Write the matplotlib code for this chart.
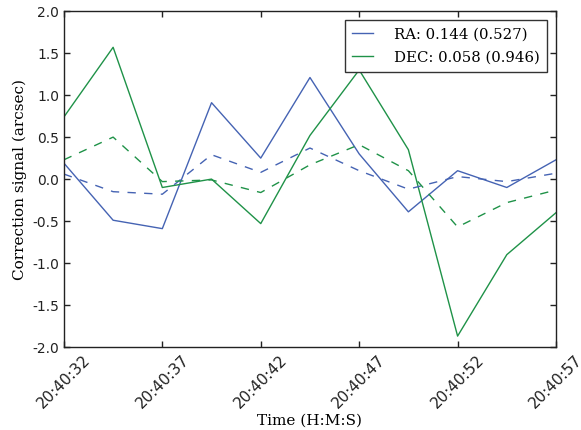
import datetime as dt
import numpy as np
import matplotlib
matplotlib.use("Agg")
import matplotlib.pyplot as plt
import matplotlib.dates as mdates

# samples every 2.5 s starting 20:40:32
t0 = dt.datetime(2016, 1, 1, 20, 40, 32)
offsets = [0, 2.5, 5, 7.5, 10, 12.5, 15, 17.5, 20, 22.5, 25]
times = [t0 + dt.timedelta(seconds=s) for s in offsets]

ra = [0.19, -0.49, -0.59, 0.91, 0.25, 1.21, 0.30, -0.39, 0.10, -0.10, 0.23]
dec = [0.74, 1.57, -0.10, 0.0, -0.53, 0.52, 1.30, 0.35, -1.87, -0.90, -0.40]
ra_model = [0.06, -0.15, -0.18, 0.29, 0.08, 0.37, 0.10, -0.12, 0.03, -0.03, 0.07]
dec_model = [0.23, 0.50, -0.03, -0.01, -0.16, 0.17, 0.41, 0.10, -0.57, -0.28, -0.13]

ra_label = "RA: 0.144 (0.527)"
dec_label = "DEC: 0.058 (0.946)"

blue = "#4563b3"
green = "#1f9248"

plt.rcParams["xtick.direction"] = "in"
plt.rcParams["ytick.direction"] = "in"

fig = plt.figure(figsize=(5.81, 4.30), dpi=100)
ax = fig.add_axes([0.110, 0.193, 0.847, 0.781])

ax.plot(times, ra, color=blue, lw=1.0, label=ra_label)
ax.plot(times, dec, color=green, lw=1.0, label=dec_label)
ax.plot(times, ra_model, color=blue, lw=1.0, ls="--", dashes=(6, 6))
ax.plot(times, dec_model, color=green, lw=1.0, ls="--", dashes=(6, 6))

ax.set_xlim(times[0], times[-1])
ax.set_ylim(-2.0, 2.0)
ax.set_yticks(np.arange(-2.0, 2.01, 0.5))
ax.xaxis.set_major_locator(mdates.SecondLocator(bysecond=[2, 7, 12, 17, 22, 27, 32, 37, 42, 47, 52, 57]))
ax.xaxis.set_major_formatter(mdates.DateFormatter("%H:%M:%S"))
ax.tick_params(top=True, right=True, length=4, width=1, labelsize=10,
               colors="#222222", labelcolor="#222222")
ax.tick_params(axis="x", labelsize=11, pad=4)
for lab in ax.get_xticklabels():
    lab.set_rotation(45)
    lab.set_ha("center")
    lab.set_va("top")
ax.yaxis.set_major_formatter(matplotlib.ticker.FormatStrFormatter("%.1f"))
for sp in ax.spines.values():
    sp.set_color("#222222")
    sp.set_linewidth(1.0)

ax.set_xlabel("Time (H:M:S)", family="DejaVu Serif", fontsize=11, labelpad=2)
ax.set_ylabel("Correction signal (arcsec)", family="DejaVu Serif", fontsize=11, labelpad=4)

leg = ax.legend(loc="upper right", prop={"family": "DejaVu Serif", "size": 10.7},
                fancybox=False, framealpha=1, edgecolor="#333333",
                handlelength=1.4, handletextpad=1.4, borderpad=0.5,
                labelspacing=0.6, borderaxespad=0.6)
leg.get_frame().set_linewidth(1.0)

fig.savefig("out.png", dpi=100)
